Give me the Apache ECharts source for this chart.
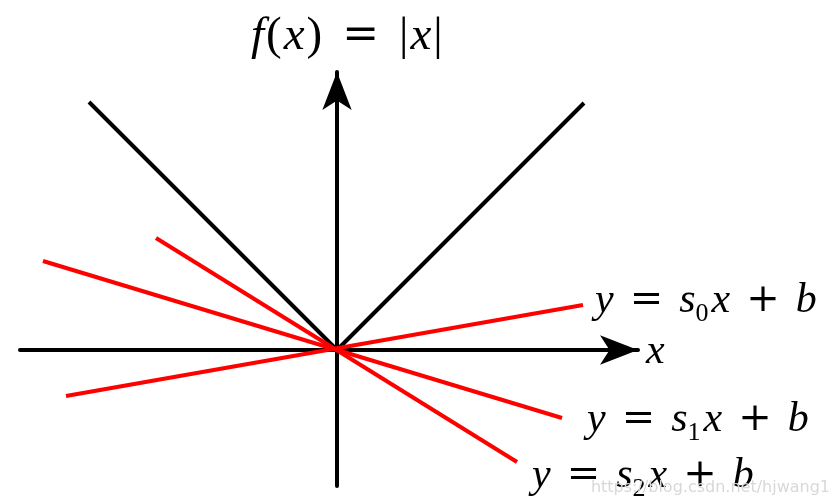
<!DOCTYPE html>
<html>
<head>
<meta charset="utf-8">
<script src="https://cdn.jsdelivr.net/npm/echarts@6/dist/echarts.min.js"></script>
<style>
  html, body { margin: 0; padding: 0; background: #fff; }
  #chart { width: 840px; height: 504px; }
</style>
</head>
<body>
<div id="chart"></div>
<script>
// axis extent (units = 100px in the picture)
const xRange = [-3.17, 3.01];
const yRange = [-1.36, 2.78];

// f(x) = |x|
const absLine = [[-2.48, 2.48], [0, 0], [2.47, 2.47]];
// subgradient lines through the origin
const s0Line = [[-2.71, -0.46], [2.46, 0.45]];
const s1Line = [[-2.94, 0.89], [2.25, -0.68]];
const s2Line = [[-1.81, 1.12], [1.80, -1.12]];

const labelNames = ['0', '1', '2'];

const mathRich = {
    i: { fontFamily: 'Liberation Serif', fontStyle: 'italic', fontWeight: 'normal', fontSize: 42, lineHeight: 44, color: '#000' },
    r: { fontFamily: 'Liberation Serif', fontWeight: 'normal', fontSize: 42, lineHeight: 44, color: '#000' },
    op: { fontFamily: 'DejaVu Serif', fontWeight: 'normal', fontSize: 40, lineHeight: 44, color: '#000', padding: [0, 16, 0, 16] },
    s: { fontFamily: 'Liberation Serif', fontWeight: 'normal', fontSize: 26, lineHeight: 20, color: '#000', verticalAlign: 'bottom', padding: [0, 3, -4, 0] }
}

// title is set a little larger
const titleRich = {
    i: { fontFamily: 'Liberation Serif', fontStyle: 'italic', fontWeight: 'normal', fontSize: 47, lineHeight: 48, color: '#000' },
    r: { fontFamily: 'Liberation Serif', fontWeight: 'normal', fontSize: 47, lineHeight: 48, color: '#000', padding: [0, 2, 0, 2] },
    op: { fontFamily: 'DejaVu Serif', fontWeight: 'normal', fontSize: 44, lineHeight: 48, color: '#000', padding: [0, 18, 0, 18] }
}

function eqText(k) {
    return '{i|y}{op|=}{i|s}{s|' + k + '}{i|x}{op|+}{i|b}'
}

const chart = echarts.init(document.getElementById('chart'));

function redLine(data, k, offset) {
    return {
        type: 'line',
        data: data,
        symbol: 'none',
        lineStyle: { color: '#ff0000', width: 4 },
        z: 3,
        endLabel: {
            show: true,
            formatter: eqText(k),
            rich: mathRich,
            distance: 10,
            offset: offset
        }
    }
}

chart.setOption({
    animation: false,
    grid: { left: 20, right: 840 - 638, top: 72, bottom: 18 },
    title: {
        text: '{i|f}{r|(}{i|x}{r|)}{op|=}{r||}{i|x}{r||}',
        left: 246,
        top: 8,
        textStyle: { rich: titleRich }
    },
    xAxis: {
        type: 'value',
        min: xRange[0],
        max: xRange[1],
        splitLine: { show: false },
        axisTick: { show: false },
        axisLabel: { show: false },
        name: '{i|x}',
        nameGap: 8,
        nameTextStyle: { rich: mathRich, padding: [4, 0, 0, 0] },
        axisLine: {
            onZero: true,
            symbol: ['none', 'arrow'],
            symbolSize: [22, 38],
            lineStyle: { color: '#000', width: 4 }
        }
    },
    yAxis: {
        type: 'value',
        min: yRange[0],
        max: yRange[1],
        splitLine: { show: false },
        axisTick: { show: false },
        axisLabel: { show: false },
        axisLine: {
            onZero: true,
            symbol: ['none', 'arrow'],
            symbolSize: [22, 38],
            lineStyle: { color: '#000', width: 4 }
        }
    },
    graphic: [{
        type: 'text',
        right: 10,
        bottom: 8,
        style: { text: 'https://blog.csdn.net/hjwang1', fill: '#d8d8d8', font: '16px "DejaVu Sans"' },
        z: 10
    }],
    series: [
        {
            type: 'line',
            data: absLine,
            symbol: 'none',
            lineStyle: { color: '#000', width: 4 },
            z: 2
        },
        redLine(s0Line, labelNames[0], [2, -4]),
        redLine(s1Line, labelNames[1], [15, 2]),
        redLine(s2Line, labelNames[2], [5, 14])
    ]
});
</script>
</body>
</html>
